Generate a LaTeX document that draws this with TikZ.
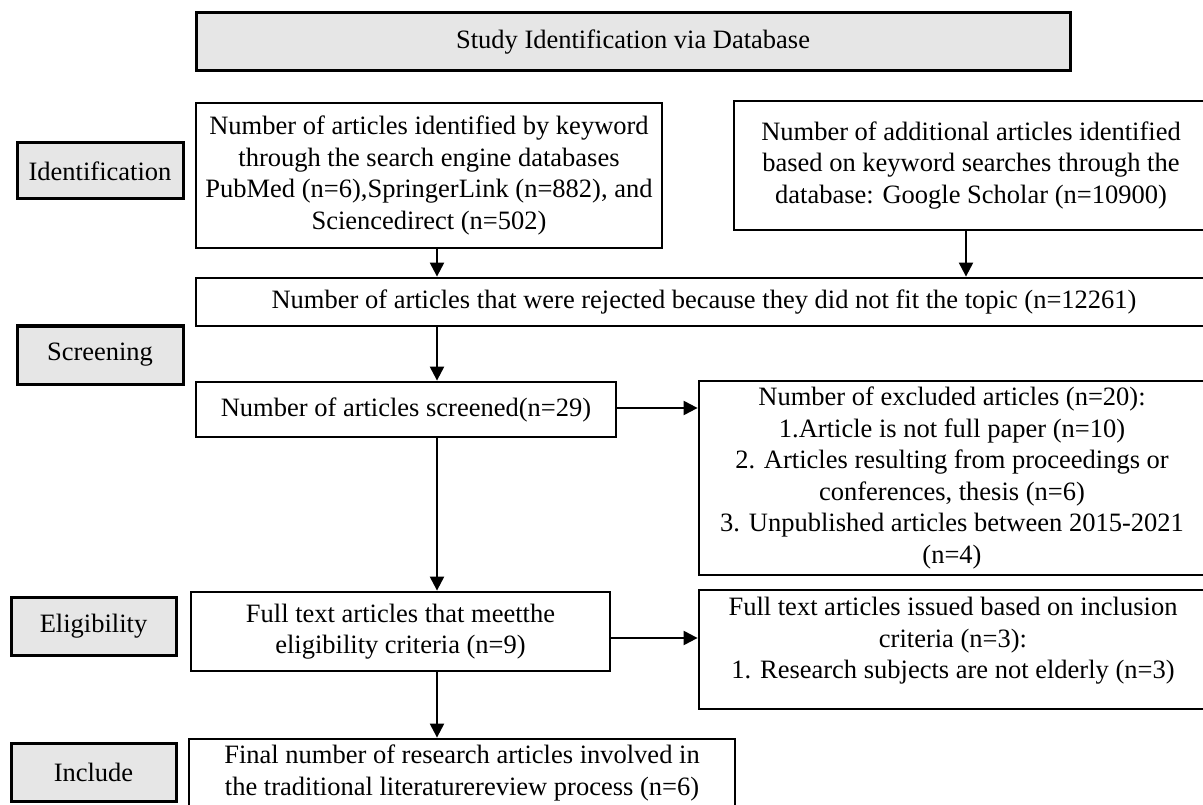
\documentclass[tikz,border=0pt]{standalone}
\usepackage{fontspec}
\setmainfont{Liberation Serif}
\usetikzlibrary{arrows.meta}
\definecolor{boxgray}{HTML}{E6E6E6}
\begin{document}
\begin{tikzpicture}[x=1pt,y=-1pt,
  box/.style={draw, line width=2.8pt, inner sep=0pt, align=center,
    font=\fontsize{26.5}{31.5}\selectfont},
  lab/.style={box, fill=boxgray, line width=3pt},
  arr/.style={line width=2.2pt, -{Triangle[width=14pt,length=14pt]}},
  txt/.style={inner sep=0pt, align=center, font=\fontsize{26.5}{31.5}\selectfont}]
\useasboundingbox (0,0) rectangle (1203,805);
\clip (0,0) rectangle (1203,805);
% title
\node[lab, minimum width=874pt, minimum height=58pt] (title) at (633,42) {Study Identification via Database};
% stage labels
\node[lab, minimum width=166pt, minimum height=56pt] (lid) at (100,171) {Identification};
\node[lab, minimum width=166pt, minimum height=58pt] (lsc) at (100,355) {Screening};
\node[lab, minimum width=165pt, minimum height=58pt] (lel) at (93.5,626) {Eligibility};
\node[lab, minimum width=165pt, minimum height=58pt] (lin) at (93.5,772) {Include};
% main boxes
\node[box, minimum width=466pt, minimum height=145pt] (A) at (429,175.5)
  {Number of articles identified by keyword\\through the search engine databases\\PubMed (n=6),SpringerLink (n=882), and\\Sciencedirect (n=502)};
\node[box, minimum width=474pt, minimum height=129pt] (B) at (971,165.5)
  {Number of additional articles identified\\based on keyword searches through the\\database: Google Scholar (n=10900)};
\node[box, minimum width=1016pt, minimum height=48pt] (rej) at (704,302)
  {Number of articles that were rejected because they did not fit the topic (n=12261)};
\node[box, minimum width=420pt, minimum height=55pt] (scr) at (406,409.5)
  {Number of articles screened(n=29)};
\node[box, minimum width=506pt, minimum height=194pt] (exc) at (952,478)
  {Number of excluded articles (n=20):\\1.Article is not full paper (n=10)\\2. Articles resulting from proceedings or\\conferences, thesis (n=6)\\3. Unpublished articles between 2015-2021\\(n=4)};
\node[box, minimum width=419pt, minimum height=79pt] (eli) at (400.5,631.5)
  {Full text articles that meetthe\\eligibility criteria (n=9)};
\node[box, minimum width=508pt, minimum height=119pt] (incl) at (953,649.5) {};
\node[txt] (incltext) at (953,641)
  {Full text articles issued based on inclusion\\criteria (n=3):\\1. Research subjects are not elderly (n=3)};
\node[box, minimum width=546pt, minimum height=68pt] (fin) at (462,773)
  {Final number of research articles involved in\\the traditional literaturereview process (n=6)};
% connector guides
\coordinate (ax) at (437,0);
\coordinate (bx) at (966,0);
\coordinate (sy) at (0,408);
\coordinate (ey) at (0,638);
% connectors
\draw[arr] (A.south -| ax) -- (rej.north -| ax);
\draw[arr] (B.south -| bx) -- (rej.north -| bx);
\draw[arr] (rej.south -| ax) -- (scr.north -| ax);
\draw[arr] (scr.south -| ax) -- (eli.north -| ax);
\draw[arr] (eli.south -| ax) -- (fin.north -| ax);
\draw[arr] (scr.east |- sy) -- (exc.west |- sy);
\draw[arr] (eli.east |- ey) -- (incl.west |- ey);
\end{tikzpicture}
\end{document}
